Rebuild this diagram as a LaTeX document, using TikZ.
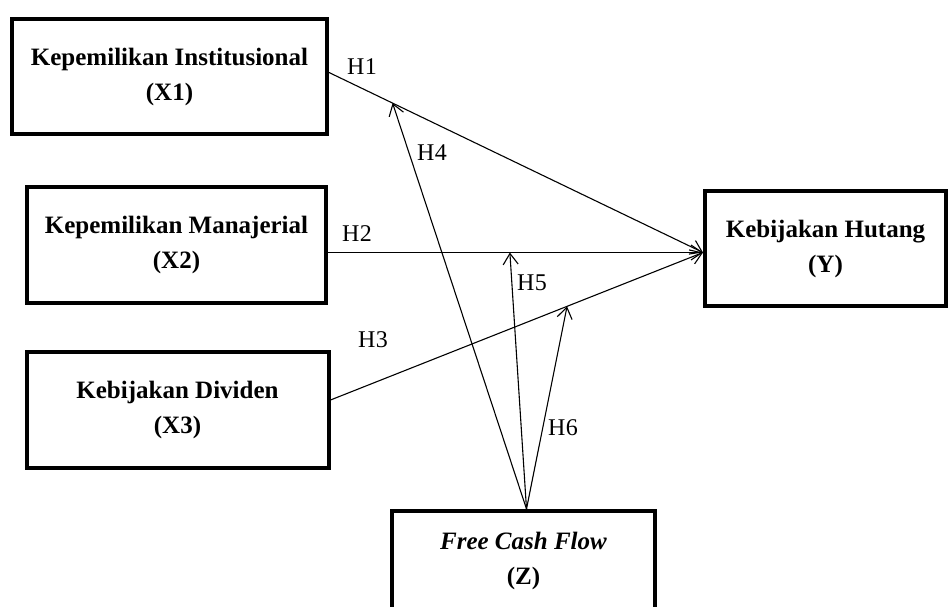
\documentclass[tikz,border=0pt]{standalone}
\usepackage{fontspec}
\setmainfont{Liberation Serif}
\usetikzlibrary{arrows.meta, positioning, calc}

\tikzset{
  varbox/.style={draw, line width=4pt, inner sep=0pt, align=center,
    font=\bfseries\fontsize{25}{35}\selectfont},
  hyp/.style={line width=1.1pt, -{Straight Barb[length=11pt, width=15pt, line width=1.1pt]}},
  hlabel/.style={font=\fontsize{24}{26}\selectfont\addfontfeature{LetterSpace=2}, inner sep=0pt}
}

\begin{document}
\begin{tikzpicture}[x=1pt, y=-1pt]
  \useasboundingbox (0,0) rectangle (952,607);
  \begin{scope}
    \clip (0,0) rectangle (952,607);
    % variables
    \node[varbox, minimum width=315pt, minimum height=115pt] (x1) at (169.5,76.5) {Kepemilikan Institusional\\(X1)};
    \node[varbox, minimum width=299pt, minimum height=116pt] (x2) at (176.5,245) {Kepemilikan Manajerial\\(X2)};
    \node[varbox, minimum width=302pt, minimum height=116pt] (x3) at (177.5,410) {Kebijakan Dividen\\(X3)};
    \node[varbox, minimum width=241pt, minimum height=115pt] (y) at (825.5,248.5) {Kebijakan Hutang\\(Y)};
    \node[varbox, minimum width=263pt, minimum height=100pt] (z) at (523.5,561) {\textit{Free Cash Flow}\\(Z)};
  \end{scope}

  % direct effects
  \coordinate (yin) at ([yshift=-4pt]y.west);
  \coordinate (zout) at ([xshift=3pt]z.north);
  \draw[hyp] ([yshift=4pt]x1.east) -- coordinate[pos=0.17] (h4tip) (yin);
  \draw[hyp] (x2.east |- yin) -- coordinate[pos=0.485] (h5tip) (yin);
  \draw[hyp] ([yshift=10pt]x3.east) -- coordinate[pos=0.635] (h6tip) (yin);

  % moderation
  \draw[hyp] (zout) -- (h4tip);
  \draw[hyp] (zout) -- (h5tip);
  \draw[hyp] (zout) -- (h6tip);

  % labels
  \node[hlabel] (h1) at (362,67) {H1};
  \node[hlabel] (h2) at (357,234) {H2};
  \node[hlabel] (h3) at (373,340) {H3};
  \node[hlabel] (h4) at (432,153) {H4};
  \node[hlabel] (h5) at (532,283) {H5};
  \node[hlabel] (h6) at (563,428) {H6};
\end{tikzpicture}
\end{document}
